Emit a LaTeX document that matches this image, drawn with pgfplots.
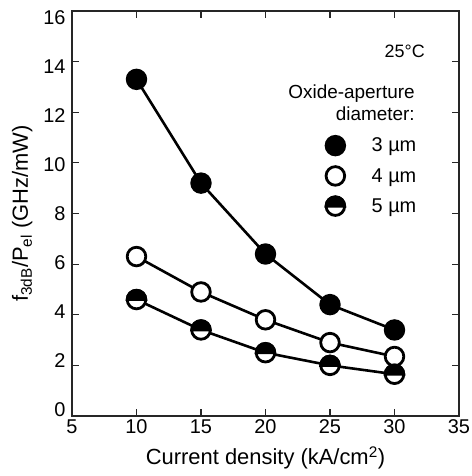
\documentclass[border=0pt]{standalone}
\usepackage{pgfplots}
\pgfplotsset{compat=1.18}
\usepackage{fontspec}
\setmainfont{Liberation Sans}
\newcommand{\fs}[2]{\fontsize{#1}{#2}\selectfont}
\pgfdeclareplotmark{halfcirc}{%
  \pgfpathcircle{\pgfpointorigin}{\pgfplotmarksize}%
  \pgfsetfillcolor{white}%
  \pgfusepathqfillstroke
  \pgfpathmoveto{\pgfqpoint{\pgfplotmarksize}{0pt}}%
  \pgfpatharc{0}{180}{\pgfplotmarksize}%
  \pgfpathclose
  \pgfsetfillcolor{black}%
  \pgfusepathqfillstroke
}
\begin{document}
\begin{tikzpicture}
\begin{axis}[
  scale only axis, width=387bp, height=405bp,
  xmin=5, xmax=35, ymin=0, ymax=16,
  xtick={5,10,...,35}, ytick={0,2,...,16},
  tick align=inside, major tick length=7bp,
  axis line style={line width=1.2bp, black!85},
  every tick/.style={line width=1.2bp, black!85},
  tick label style={font=\fs{20}{24}},
  yticklabel style={yshift={(6-1.55*\ticknum)*1bp}, xshift=-3bp},
  /pgf/number format/assume math mode=true,
  xlabel={Current density (kA/cm\textsuperscript{2})},
  ylabel={f\textsubscript{3dB}/P\textsubscript{el} (GHz/mW)},
  label style={font=\fs{22}{26}},
  xlabel style={yshift=-6bp},
  ylabel style={yshift=4bp},
  legend style={draw=none, fill=none, at={(rel axis cs:0.656,0.692)}, anchor=north west,
    font=\fs{20}{24}, row sep=11bp, column sep=25bp, inner sep=0pt},
  legend cell align=left,
  legend image code/.code={\draw[#1] plot coordinates {(0bp,0bp)};},
  clip=false,
]
\addplot[black, line width=2.6bp, mark=*, mark size=9.3bp,
  mark options={fill=black, draw=black, line width=2.8bp}]
  coordinates {(10,13.3) (15,9.2) (20,6.4) (25,4.4) (30,3.4)};
\addlegendentry{3 µm}
\addplot[black, line width=2.6bp, mark=*, mark size=9.3bp,
  mark options={fill=white, draw=black, line width=2.8bp}]
  coordinates {(10,6.3) (15,4.9) (20,3.8) (25,2.9) (30,2.35)};
\addlegendentry{4 µm}
\addplot[black, line width=2.6bp, mark=halfcirc, mark size=9.3bp,
  mark options={draw=black, line width=2.8bp}]
  coordinates {(10,4.6) (15,3.4) (20,2.5) (25,2.0) (30,1.65)};
\addlegendentry{5 µm}
\node[anchor=east, inner sep=0pt, font=\fs{18}{22}] at (rel axis cs:0.912,0.901) {25°C};
\node[anchor=east, inner sep=0pt, align=right, font=\fs{19}{22}] at (rel axis cs:0.886,0.774) {Oxide-aperture\\diameter:};
\end{axis}
\pgfresetboundingbox
\path[use as bounding box] ([shift={(-72bp,-60bp)}]current axis.south west) rectangle ([shift={(13bp,11bp)}]current axis.north east);
\end{tikzpicture}
\end{document}
